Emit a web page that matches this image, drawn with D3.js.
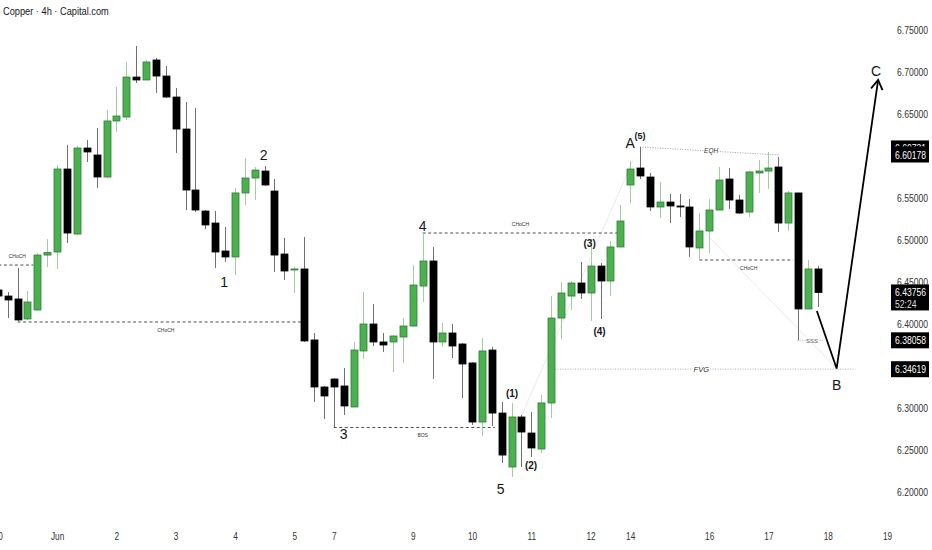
<!DOCTYPE html>
<html><head><meta charset="utf-8">
<script src="https://cdn.jsdelivr.net/npm/d3@7"></script>
<style>html,body{margin:0;padding:0;background:#fff;}svg{display:block;}</style>
</head><body>
<script>
// ---------- DATA ----------
const title = "Copper · 4h · Capital.com";
const firstIndex = -1;
const opens = [6.4405,6.4333,6.4298,6.4060,6.4167,6.4821,6.4857,6.5845,6.5071,6.6095,6.6012,6.5750,6.6417,6.6464,6.6940,6.6905,6.7143,6.6952,6.6702,6.6321,6.5595,6.5345,6.5202,6.4869,6.4798,6.5560,6.5738,6.5821,6.5583,6.4833,6.4643,6.4655,6.3810,6.3250,6.3345,6.3262,6.3012,6.3679,6.4000,6.3786,6.3786,6.3845,6.3976,6.4452,6.4750,6.3786,6.3893,6.3762,6.3536,6.2833,6.3690,6.2940,6.2298,6.2893,6.2702,6.2512,6.3060,6.4071,6.4333,6.4488,6.4369,6.4690,6.4512,6.4917,6.5655,6.5857,6.5750,6.5393,6.5452,6.5405,6.5393,6.4905,6.5107,6.5357,6.5726,6.5476,6.5333,6.5798,6.5821,6.5869,6.5202,6.5560,6.4179,6.4655];
const highs = [6.4452,6.4381,6.4667,6.4393,6.4845,6.5012,6.5893,6.6131,6.6119,6.6190,6.6333,6.6548,6.6821,6.7119,6.7310,6.7143,6.7167,6.7071,6.6810,6.6643,6.6571,6.5357,6.5345,6.5155,6.5619,6.5976,6.5869,6.5881,6.5726,6.5024,6.4679,6.5036,6.3893,6.3262,6.3357,6.3476,6.3786,6.4381,6.4238,6.3893,6.3869,6.4071,6.4702,6.5083,6.4917,6.4012,6.4000,6.3774,6.3548,6.3833,6.3726,6.3071,6.3060,6.2917,6.2952,6.3155,6.4333,6.4500,6.4512,6.4738,6.5012,6.4726,6.4988,6.5417,6.5940,6.6107,6.5798,6.5690,6.5548,6.5548,6.5488,6.5321,6.5488,6.5869,6.5857,6.5536,6.5821,6.5952,6.6048,6.5988,6.5583,6.5560,6.4762,6.4690];
const lows = [6.4286,6.4071,6.4036,6.4048,6.4155,6.4679,6.4655,6.4964,6.5060,6.5929,6.5619,6.5738,6.6286,6.6429,6.6869,6.6905,6.6750,6.6690,6.6036,6.5357,6.5333,6.5131,6.4667,6.4738,6.4583,6.5417,6.5476,6.5643,6.4619,6.4524,6.4369,6.3786,6.3071,6.2869,6.2774,6.2917,6.3012,6.3583,6.3738,6.3667,6.3429,6.3536,6.3964,6.4262,6.3345,6.3726,6.3595,6.3119,6.2798,6.2667,6.2786,6.2345,6.2179,6.2298,6.2417,6.2464,6.2881,6.3821,6.4167,6.4298,6.4036,6.4060,6.4333,6.4917,6.5440,6.5726,6.5345,6.5262,6.5202,6.5274,6.4798,6.4774,6.4845,6.5357,6.5369,6.5310,6.5274,6.5560,6.5607,6.5095,6.5107,6.3806,6.4179,6.4202];
const closes = [6.4333,6.4286,6.4048,6.4262,6.4821,6.4851,6.5845,6.5083,6.6095,6.6048,6.5750,6.6417,6.6476,6.6940,6.6905,6.7119,6.6952,6.6702,6.6321,6.5595,6.5357,6.5179,6.4857,6.4798,6.5560,6.5738,6.5833,6.5655,6.4821,6.4631,6.4655,6.3798,6.3250,6.3143,6.3250,6.3024,6.3690,6.4000,6.3786,6.3750,6.3857,6.3976,6.4464,6.4750,6.3786,6.3893,6.3738,6.3524,6.2833,6.3679,6.2940,6.2440,6.2893,6.2714,6.2524,6.3060,6.4071,6.4369,6.4488,6.4369,6.4690,6.4512,6.4917,6.5226,6.5845,6.5762,6.5393,6.5452,6.5405,6.5399,6.4917,6.5107,6.5357,6.5714,6.5476,6.5321,6.5810,6.5821,6.5857,6.5202,6.5560,6.4179,6.4655,6.43756];

const priceTicks = [6.75,6.70,6.65,6.60,6.55,6.50,6.45,6.40,6.35,6.30,6.25,6.20];
const dateTickIndex = [-1,5,11,17,23,29,33,41,47,53,59,63,71,77,83,89];
const dateTickLabels = ["30","Jun","2","3","4","5","7","9","10","11","12","14","16","17","18","19"];

// structure lines: [startIndex, endIndex, price, label, labelIndex, labelSide]
const structLines = [
  [-1.5, 2.6, 6.4702, "CHoCH", 0.1, -1],
  [1.0, 30.0, 6.4024, "CHoCH", 16.0, 1],
  [33.0, 49.3, 6.2768, "BOS", 42.0, 1],
  [42.0, 61.7, 6.5083, "CHoCH", 51.9, -1],
  [70.0, 79.5, 6.4762, "CHoCH", 75.0, 1]
];
const eqh = {i1: 64.0, p1: 6.6107, i2: 78.0, p2: 6.6012, label: "EQH"};
const sss = {i1: 79.9, i2: 82.7, price: 6.38058, label: "SSS"};
const fvg = {i1: 55.4, i2: 85.8, price: 6.34619, label: "FVG", labelIndex: 70.2};

// wave labels: [text, index, price, size]
const waveLabels = [
  ["1", 21.9, 6.4500, 14], ["2", 25.9, 6.6012, 14], ["3", 34.0, 6.2690, 14],
  ["4", 42.0, 6.5167, 14], ["5", 49.9, 6.2036, 14], ["A", 63.0, 6.6155, 14],
  ["B", 83.9, 6.3274, 14], ["C", 87.9, 6.7012, 14],
  ["(1)", 51.05, 6.3179, 10], ["(2)", 52.97, 6.2321, 10], ["(3)", 58.9, 6.4964, 10],
  ["(4)", 59.9, 6.3917, 10], ["(5)", 64.0, 6.6238, 9]
];
// projected path last bar -> B -> C
const projIdx = [81.9, 83.9, 88.1];
const projPrice = [6.4155, 6.3470, 6.6905];
// faint connecting lines [i1,p1,i2,p2]
const faintLines = [[52.0, 6.2905, 63.3, 6.5952], [70.0, 6.5155, 83.9, 6.3470]];

// price boxes: [text, price, secondLine]
const priceBoxes = [
  ["6.60731", 6.6090, null],
  ["6.60178", 6.60178, null],
  ["6.43756", 6.43756, "52:24"],
  ["6.38058", 6.38058, null],
  ["6.34619", 6.34619, null]
];

// ---------- CHART ----------
const W = 932, H = 550, plotRight = 889, plotBottom = 520;
const svg = d3.select("body").append("svg").attr("width", W).attr("height", H);
const SANS = "'Liberation Sans','DejaVu Sans',sans-serif";
function condense(sel, f) {
  sel.each(function () {
    const w = this.getComputedTextLength();
    d3.select(this).attr("textLength", w * f).attr("lengthAdjust", "spacingAndGlyphs");
  });
}

const x = d3.scaleLinear().domain([-0.78, 89.2]).range([0, plotRight]);
const y = d3.scaleLinear().domain([6.75, 6.20]).range([30, 492]);

svg.append("defs").append("clipPath").attr("id", "plot")
  .append("rect").attr("x", 0).attr("y", 0).attr("width", plotRight).attr("height", plotBottom);
const g = svg.append("g").attr("clip-path", "url(#plot)");

const candles = opens.map((o, k) => ({i: firstIndex + k, o, h: highs[k], l: lows[k], c: closes[k]}));
const up = d => d.c >= d.o;

// faint lines
g.selectAll(".faint").data(faintLines).join("line")
  .attr("x1", d => x(d[0])).attr("y1", d => y(d[1])).attr("x2", d => x(d[2])).attr("y2", d => y(d[3]))
  .attr("stroke", "#e0e0e0").attr("stroke-width", 0.7);

// structure dashed lines
g.selectAll(".sl").data(structLines).join("line")
  .attr("x1", d => x(d[0])).attr("x2", d => x(d[1])).attr("y1", d => y(d[2])).attr("y2", d => y(d[2]))
  .attr("stroke", "#222").attr("stroke-width", 0.8).attr("stroke-dasharray", "3,2.5");
g.selectAll(".slt").data(structLines).join("text")
  .attr("x", d => x(d[4])).attr("y", d => y(d[2]) + (d[5] < 0 ? -7 : 10))
  .attr("text-anchor", d => d[4] < 1 ? "start" : "middle")
  .attr("font-family", SANS).attr("font-size", 5).attr("fill", "#333").text(d => d[3]);

// EQH dotted
g.append("line").attr("x1", x(eqh.i1)).attr("y1", y(eqh.p1)).attr("x2", x(eqh.i2)).attr("y2", y(eqh.p2))
  .attr("stroke", "#888").attr("stroke-width", 0.8).attr("stroke-dasharray", "1,1.5");
{
  const mi = (eqh.i1 + eqh.i2) / 2 + 0.2, mp = (eqh.p1 + eqh.p2) / 2;
  g.append("rect").attr("x", x(mi) - 7).attr("y", y(mp) - 4).attr("width", 14).attr("height", 7).attr("fill", "#fff");
  g.append("text").attr("x", x(mi)).attr("y", y(mp) + 2.3).attr("text-anchor", "middle")
    .attr("font-family", SANS).attr("font-size", 6.5).attr("font-style", "italic").attr("fill", "#333").text(eqh.label);
}
// FVG dotted
g.append("line").attr("x1", x(fvg.i1)).attr("x2", x(fvg.i2)).attr("y1", y(fvg.price)).attr("y2", y(fvg.price))
  .attr("stroke", "#999").attr("stroke-width", 0.8).attr("stroke-dasharray", "1,1.5");
g.append("rect").attr("x", x(fvg.labelIndex) - 9).attr("y", y(fvg.price) - 4).attr("width", 18).attr("height", 8).attr("fill", "#fff");
g.append("text").attr("x", x(fvg.labelIndex)).attr("y", y(fvg.price) + 2.5).attr("text-anchor", "middle")
  .attr("font-family", SANS).attr("font-size", 7.5).attr("font-style", "italic").attr("fill", "#333").text(fvg.label);
// SSS
g.append("line").attr("x1", x(sss.i1)).attr("x2", x(sss.i2)).attr("y1", y(sss.price)).attr("y2", y(sss.price))
  .attr("stroke", "#999").attr("stroke-width", 0.8).attr("stroke-dasharray", "1,1.5");
{
  const mi = (sss.i1 + sss.i2) / 2 + 0.1;
  g.append("rect").attr("x", x(mi) - 6).attr("y", y(sss.price) - 4).attr("width", 12).attr("height", 8).attr("fill", "#fff");
  g.append("text").attr("x", x(mi)).attr("y", y(sss.price) + 2.2).attr("text-anchor", "middle")
    .attr("font-family", SANS).attr("font-size", 6).attr("fill", "#555").text(sss.label);
}

// candles
const bw = 7;
g.selectAll(".wick").data(candles).join("line")
  .attr("x1", d => Math.round(x(d.i)) + 0.5).attr("x2", d => Math.round(x(d.i)) + 0.5)
  .attr("y1", d => y(d.h)).attr("y2", d => y(d.l))
  .attr("stroke", d => up(d) ? "#9fcf9f" : "#6f6f6f").attr("stroke-width", 1);
g.selectAll(".body").data(candles).join("rect")
  .attr("x", d => Math.round(x(d.i)) + 0.5 - bw / 2)
  .attr("y", d => y(Math.max(d.o, d.c)))
  .attr("width", bw)
  .attr("height", d => Math.max(1, Math.abs(y(d.o) - y(d.c))))
  .attr("fill", d => up(d) ? "#4caf50" : "#000")
  .attr("stroke", d => up(d) ? "#2e7d32" : "#000").attr("stroke-width", 0.8);

// projection path
const proj = projIdx.map((v, k) => [x(v), y(projPrice[k])]);
g.append("path").attr("d", d3.line()(proj)).attr("fill", "none").attr("stroke", "#000").attr("stroke-width", 1.8)
  .attr("stroke-linejoin", "miter");
{
  const [a, b] = [proj[1], proj[2]];
  const ang = Math.atan2(b[1] - a[1], b[0] - a[0]);
  const L = 11, s = 0.55;
  const p1 = [b[0] - L * Math.cos(ang - s), b[1] - L * Math.sin(ang - s)];
  const p2 = [b[0] - L * Math.cos(ang + s), b[1] - L * Math.sin(ang + s)];
  g.append("path").attr("d", d3.line()([p1, b, p2])).attr("fill", "none").attr("stroke", "#000").attr("stroke-width", 1.8);
}

// wave labels
g.selectAll(".wl").data(waveLabels).join("text")
  .attr("x", d => x(d[1])).attr("y", d => y(d[2]) + d[3] * 0.36)
  .attr("text-anchor", "middle").attr("font-family", SANS).attr("font-size", d => d[3])
  .attr("font-weight", d => d[3] < 12 ? "bold" : "normal")
  .attr("fill", "#131722").text(d => d[0]);

// price axis
const yAxis = d3.axisRight(y).tickValues(priceTicks).tickFormat(d3.format(".5f")).tickSize(0).tickPadding(0);
const ya = svg.append("g").attr("transform", `translate(${plotRight + 8},0)`).call(yAxis);
ya.select(".domain").remove();
ya.selectAll("text").attr("font-family", SANS).attr("font-size", 11).attr("fill", "#333").call(condense, 0.78);

// price boxes
const pb = svg.selectAll(".pb").data(priceBoxes).join("g");
pb.append("rect").attr("x", plotRight + 2).attr("y", d => y(d[1]) - 8).attr("width", 38)
  .attr("height", d => d[2] ? 26 : 16).attr("fill", "#000");
pb.append("text").attr("x", plotRight + 6).attr("y", d => y(d[1]) + 4).attr("font-family", SANS)
  .attr("font-size", 11).attr("fill", "#fff").text(d => d[0]).call(condense, 0.78);
pb.filter(d => d[2]).append("text").attr("x", plotRight + 6).attr("y", d => y(d[1]) + 15.5).attr("font-family", SANS)
  .attr("font-size", 11).attr("fill", "#ddd").text(d => d[2]).call(condense, 0.78);

// date axis
const xAxis = d3.axisBottom(x).tickValues(dateTickIndex).tickFormat((d, k) => dateTickLabels[k]).tickSize(0).tickPadding(0);
const xa = svg.append("g").attr("transform", `translate(0,532)`).call(xAxis);
xa.select(".domain").remove();
xa.selectAll("text").attr("font-family", SANS).attr("font-size", 11).attr("fill", "#333").call(condense, 0.75);

// title
svg.append("text").attr("x", 3).attr("y", 15).attr("font-family", SANS).attr("font-size", 11)
  .attr("fill", "#131722").text(title).call(condense, 0.84);
</script>
</body></html>
